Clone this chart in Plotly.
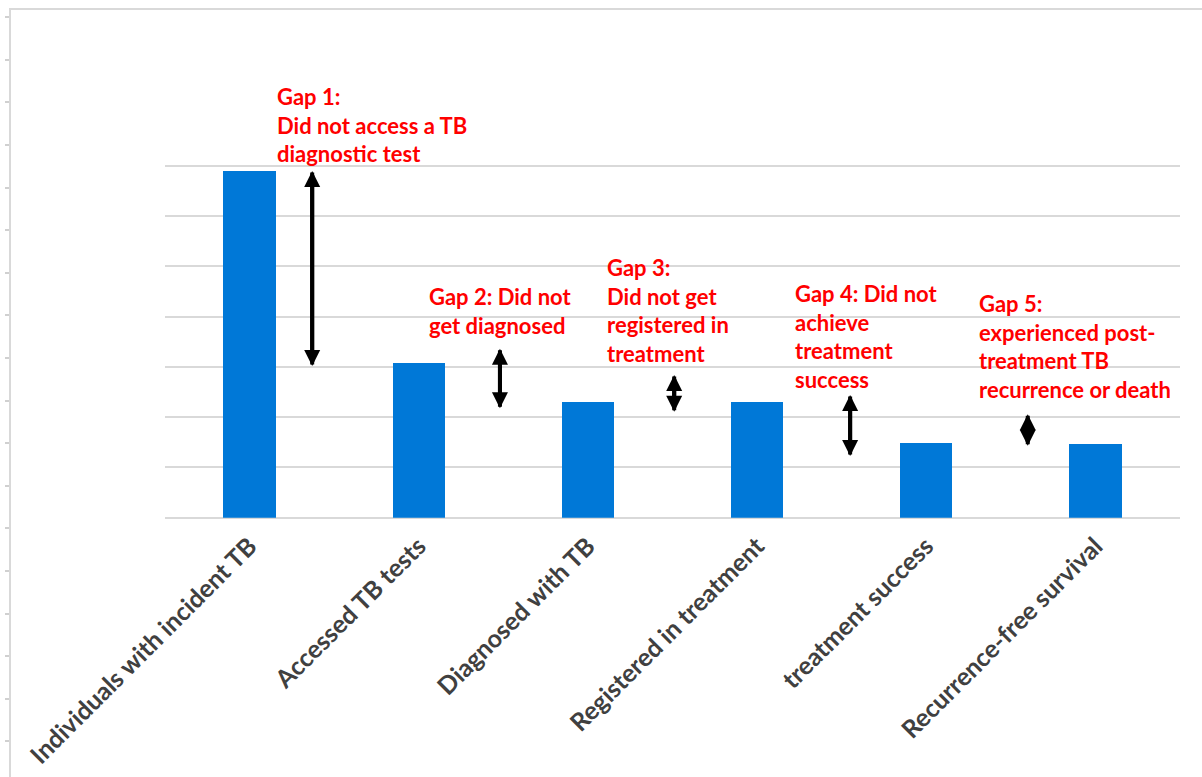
import plotly.graph_objects as go

# ---- data ----
categories = [
    "Individuals with incident TB",
    "Accessed TB tests",
    "Diagnosed with TB",
    "Registered in treatment",
    "treatment success",
    "Recurrence-free survival",
]
values = [6.9, 3.08, 2.31, 2.31, 1.50, 1.47]

gap_labels = [
    "Gap 1:<br>Did not access a TB<br>diagnostic test",
    "Gap 2: Did not<br>get diagnosed",
    "Gap 3:<br>Did not get<br>registered in<br>treatment",
    "Gap 4: Did not<br>achieve<br>treatment<br>success",
    "Gap 5:<br>experienced post-<br>treatment TB<br>recurrence or death",
]
# arrow extents (in value units) and positions (category index units)
gap_arrow_x = [0.37, 1.48, 2.51, 3.55, 4.60]
gap_arrow_top = [6.9, 3.36, 2.84, 2.44, 2.06]
gap_arrow_bottom = [3.02, 2.18, 2.11, 1.23, 1.43]
gap_label_x = [0.15, 1.05, 2.10, 3.21, 4.30]
gap_label_y = [7.82, 4.11, 4.13, 3.60, 3.40]

W, H = 1202, 777
ML, MT = 11, 10
PW, PH = W - ML, H - MT

def xdom(a, b):
    return [(a - ML) / PW, (b - ML) / PW]

def ydom(top, bottom):
    return [(H - bottom) / PH, (H - top) / PH]

fig = go.Figure()

fig.add_trace(go.Bar(
    x=list(range(len(categories))), y=values, width=0.31,
    marker=dict(color="#0078D7", line=dict(width=0)),
    showlegend=False, hoverinfo="skip",
))

# dummy trace for the decorative frame axes
fig.add_trace(go.Scatter(x=[None], y=[None], xaxis="x2", yaxis="y2",
                         showlegend=False, hoverinfo="skip"))

arrow_style = dict(xref="x", yref="y", axref="x", ayref="y", text="",
                   showarrow=True, arrowhead=2, arrowsize=0.8, arrowwidth=4,
                   arrowcolor="black", standoff=0)
for gx, gt, gb in zip(gap_arrow_x, gap_arrow_top, gap_arrow_bottom):
    # two overlapping single-headed arrows -> one double-headed arrow
    fig.add_annotation(x=gx, y=gt, ax=gx, ay=gb, **arrow_style)
    fig.add_annotation(x=gx, y=gb, ax=gx, ay=gt, **arrow_style)

for lx, ly, txt in zip(gap_label_x, gap_label_y, gap_labels):
    fig.add_annotation(
        x=lx, y=ly, xref="x", yref="y", text=txt, showarrow=False,
        xanchor="left", yanchor="middle", align="left",
        font=dict(family="Lato", size=22, color="#FF0000", weight="bold"),
    )

fig.update_layout(
    width=W, height=H,
    margin=dict(l=ML, r=0, t=MT, b=0, autoexpand=False),
    paper_bgcolor="white", plot_bgcolor="rgba(0,0,0,0)",
    bargap=0,
    xaxis=dict(
        domain=xdom(165, 1180), range=[-0.5, 5.5], automargin=False,
        tickmode="array", tickvals=list(range(len(categories))), ticktext=categories,
        tickangle=-45, showgrid=False, zeroline=False, showline=False, ticks="",
        ticklabelstandoff=8,
        tickfont=dict(family="Lato", size=25, color="#404040", weight="bold"),
    ),
    yaxis=dict(
        domain=ydom(115.7, 517.7), range=[0, 8.0001], dtick=1, tick0=0,
        automargin=False,
        showgrid=True, gridcolor="#d9d9d9", gridwidth=1.5,
        zeroline=True, zerolinecolor="#d9d9d9", zerolinewidth=1.5,
        showticklabels=False, showline=False, ticks="",
    ),
    xaxis2=dict(
        domain=[0, 1], anchor="y2", side="top", range=[0, 1], automargin=False,
        showline=True, linecolor="#d9d9d9", linewidth=2,
        showgrid=False, zeroline=False, ticks="", showticklabels=False,
    ),
    yaxis2=dict(
        domain=[0, 1], anchor="x2", side="left", range=[0.166, 18.171],
        tick0=0, dtick=1, automargin=False,
        showline=True, linecolor="#d9d9d9", linewidth=2,
        ticks="outside", ticklen=4, tickwidth=1.5, tickcolor="#d0d0d0",
        showgrid=False, zeroline=False, showticklabels=False,
    ),
)

fig.write_html("out.html")
